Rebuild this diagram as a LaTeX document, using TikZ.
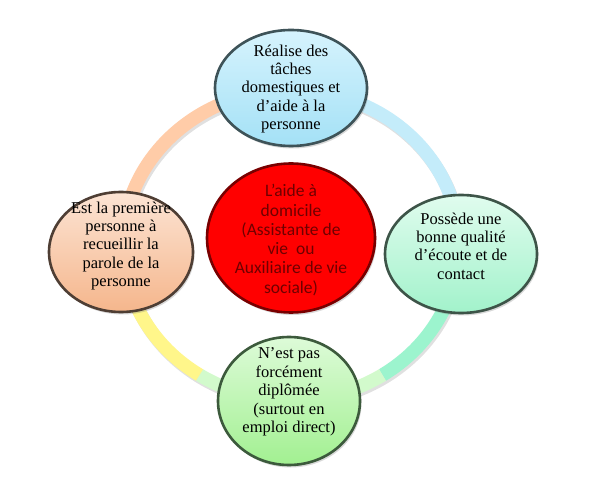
\documentclass[tikz,border=0pt]{standalone}
\usepackage{fontspec}
\setmainfont{Liberation Serif}
\newfontfamily\calib{Carlito}
\usetikzlibrary{shapes.geometric,shadows}
\definecolor{ringO}{HTML}{FFCCA8}
\definecolor{ringB}{HTML}{C4ECFA}
\definecolor{ringT}{HTML}{9CF4CE}
\definecolor{ringG}{HTML}{D2FACC}
\definecolor{ringY}{HTML}{FFF68A}
\definecolor{topB}{HTML}{3E5358}
\definecolor{leftB}{HTML}{4E3E34}
\definecolor{rightB}{HTML}{3D5448}
\definecolor{botB}{HTML}{3C5A3C}
\definecolor{midB}{HTML}{780000}
\definecolor{midT}{HTML}{6E0000}
\definecolor{topF1}{HTML}{D6F3FD}
\definecolor{topF2}{HTML}{A4E1F6}
\definecolor{leftF1}{HTML}{FCE4D4}
\definecolor{leftF2}{HTML}{F5B68C}
\definecolor{rightF1}{HTML}{E0FCEE}
\definecolor{rightF2}{HTML}{A2F2CB}
\definecolor{botF1}{HTML}{DDFBD8}
\definecolor{botF2}{HTML}{A2F091}
\begin{document}
\begin{tikzpicture}[x=1pt,y=-1pt,
  bubble/.style={ellipse, line width=2.6pt, inner sep=0pt,
    drop shadow={shadow xshift=1.5pt, shadow yshift=-2.5pt, opacity=0.3}},
  txt/.style={align=center, inner sep=0pt, font=\fontsize{16.5}{18.4}\selectfont},
  ringarc/.style={line width=13.5pt}]
\useasboundingbox[fill=white] (0,0) rectangle (592,478);
\coordinate (c) at (291,245);
\coordinate (cs) at (292.5,247.5);
% ring shadow
\draw[line width=13.5pt, black, opacity=0.12] (cs) ellipse[x radius=168, y radius=155];
% ring arcs
\draw[ringarc, draw=ringO] (c) ++(180:168 and 155) arc[start angle=180, end angle=270, x radius=168, y radius=155];
\draw[ringarc, draw=ringB] (c) ++(270:168 and 155) arc[start angle=270, end angle=360, x radius=168, y radius=155];
\draw[ringarc, draw=ringT] (c) ++(0:168 and 155) arc[start angle=0, end angle=57, x radius=168, y radius=155];
\draw[ringarc, draw=ringG] (c) ++(57:168 and 155) arc[start angle=57, end angle=123, x radius=168, y radius=155];
\draw[ringarc, draw=ringY] (c) ++(123:168 and 155) arc[start angle=123, end angle=180, x radius=168, y radius=155];
% nodes
\node[bubble, draw=topB, top color=topF1, bottom color=topF2,
  minimum width=152pt, minimum height=116pt] (top) at (291,88) {};
\node[txt] (toptxt) at (291,89) {Réalise des\\tâches\\domestiques et\\d’aide à la\\personne};

\node[bubble, draw=leftB, top color=leftF1, bottom color=leftF2,
  minimum width=144pt, minimum height=120pt] (left) at (121,252) {};
\node[txt] (lefttxt) at (121,246) {Est la première\\personne à\\recueillir la\\parole de la\\personne};

\node[bubble, draw=rightB, top color=rightF1, bottom color=rightF2,
  minimum width=152pt, minimum height=118pt] (right) at (461,254) {};
\node[txt] (righttxt) at (461,246) {Possède une\\bonne qualité\\d’écoute et de\\contact};

\node[bubble, draw=botB, top color=botF1, bottom color=botF2,
  minimum width=142pt, minimum height=128pt] (bot) at (289,401) {};
\node[txt] (bottxt) at (289,392) {N’est pas\\forcément\\diplômée\\(surtout en\\emploi direct)};

\node[bubble, draw=midB, fill=red,
  minimum width=168pt, minimum height=149pt] (mid) at (291,238) {};
\node[align=center, inner sep=0pt, text=midT, font=\calib\fontsize{17.5}{19.3}\selectfont] (midtxt) at (291,240)
  {L’aide à\\domicile\\(Assistante de\\vie~ ou\\Auxiliaire de vie\\sociale)};
\end{tikzpicture}
\end{document}
